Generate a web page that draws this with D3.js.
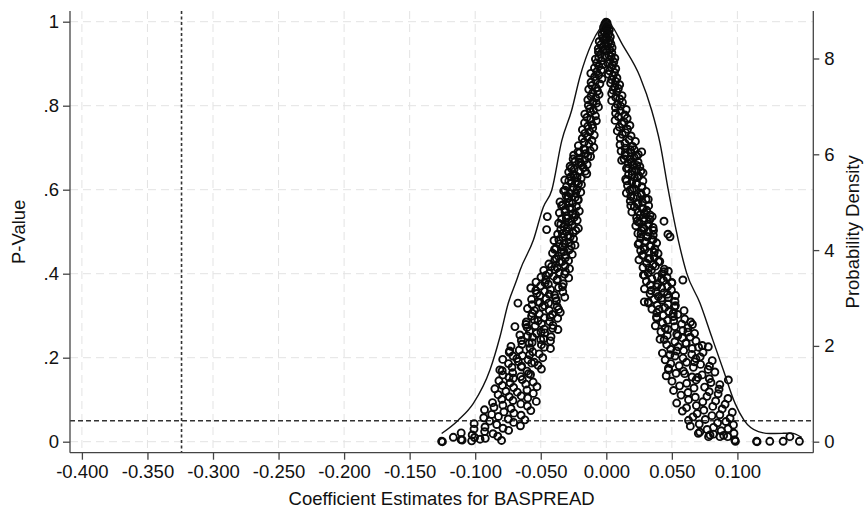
<!DOCTYPE html>
<html><head><meta charset="utf-8">
<script src="https://cdn.jsdelivr.net/npm/d3@7"></script>
<style>body{margin:0;background:#fff}svg{display:block}text{font-family:"Liberation Sans",Arial,Helvetica,sans-serif;fill:#111}</style>
</head><body><svg id="c" width="867" height="510"></svg>
<script>
const xTicks = [-0.4,-0.35,-0.3,-0.25,-0.2,-0.15,-0.1,-0.05,0,0.05,0.1];
const xTickLabels = ["-0.400","-0.350","-0.300","-0.250","-0.200","-0.150","-0.100","-0.050","0.000","0.050","0.100"];
const pTicks = [0,0.2,0.4,0.6,0.8,1];
const pTickLabels = ["0",".2",".4",".6",".8","1"];
const dTicks = [0,2,4,6,8];
const dTickLabels = ["0","2","4","6","8"];
const refCoef = -0.324;
const refP = 0.05;
// kernel density of coefficient estimates: [coef, density]
const density = [[-0.1256,0.17],[-0.1129,0.45],[-0.1014,0.80],[-0.0887,1.50],[-0.0811,2.19],[-0.0748,2.89],[-0.0683,3.38],[-0.0658,3.58],[-0.0556,4.21],[-0.048,4.90],[-0.0416,5.25],[-0.0340,6.28],[-0.0264,6.92],[-0.0201,7.62],[-0.0111,8.32],[-0.005,8.62],[0,8.77],[0.005,8.65],[0.0117,8.32],[0.0257,7.62],[0.0346,6.92],[0.041,6.23],[0.0473,5.25],[0.0549,4.21],[0.0613,3.52],[0.0715,2.89],[0.0804,2.19],[0.0892,1.50],[0.0982,0.80],[0.105,0.45],[0.116,0.21],[0.125,0.17],[0.135,0.175],[0.141,0.18],[0.149,0.09]];
// p-values against coefficient estimates, negative side: [coef, p]
const leftPoints = [
[-.0002,.999],[-.0011,.995],[-.0009,.991],[-.0021,.987],[-.0003,.983],[-.0019,.978],[-.0013,.974],[-.0032,.970],[-.0002,.966],[-.0027,.961],[-.0016,.957],[-.0054,.953],[-.0009,.949],[-.0042,.945],[-.0029,.940],[-.0061,.936],[-.0023,.932],[-.0060,.928],[-.0045,.923],[-.0010,.919],[-.0057,.915],[-.0083,.911],[-.0037,.907],[-.0073,.902],[-.0025,.898],[-.0057,.894],[-.0090,.890],[-.0038,.885],[-.0073,.881],[-.0118,.877],[-.0058,.873],[-.0089,.869],[-.0033,.864],[-.0080,.860],[-.0116,.856],[-.0049,.852],[-.0110,.848],[-.0078,.843],[-.0134,.839],[-.0067,.835],[-.0103,.831],[-.0055,.827],[-.0117,.822],[-.0080,.818],[-.0141,.814],[-.0103,.810],[-.0075,.806],[-.0137,.801],[-.0060,.797],[-.0126,.793],[-.0098,.789],[-.0120,.785],[-.0164,.780],[-.0083,.776],[-.0148,.772],[-.0118,.768],[-.0076,.764],[-.0166,.759],[-.0107,.755],[-.0142,.751],[-.0104,.747],[-.0182,.743],[-.0126,.738],[-.0164,.734],[-.0092,.730],[-.0143,.726],[-.0183,.722],[-.0110,.717],[-.0169,.713],[-.0132,.709],[-.0213,.705],[-.0095,.701],
[-.0172,.697],[-.0122,.693],[-.0216,.690],[-.0157,.686],[-.0249,.682],[-.0120,.679],[-.0205,.675],[-.0165,.671],[-.0237,.668],[-.0196,.664],[-.0146,.660],[-.0276,.656],[-.0176,.653],[-.0245,.649],[-.0209,.645],[-.0287,.642],[-.0149,.638],[-.0236,.634],[-.0271,.631],[-.0192,.627],[-.0317,.623],[-.0223,.619],[-.0265,.616],[-.0190,.612],[-.0303,.608],[-.0250,.605],[-.0223,.601],[-.0325,.597],[-.0195,.594],[-.0273,.590],[-.0306,.586],[-.0237,.582],[-.0293,.579],[-.0215,.575],[-.0353,.571],[-.0257,.568],[-.0332,.564],[-.0228,.560],[-.0278,.557],[-.0313,.553],[-.0206,.549],[-.0358,.545],[-.0258,.542],[-.0302,.538],[-.0245,.534],[-.0340,.531],[-.0222,.527],[-.0284,.523],[-.0364,.520],[-.0262,.516],[-.0325,.512],[-.0213,.508],[-.0347,.505],[-.0305,.501],[-.0253,.497],[-.0371,.494],[-.0292,.490],[-.0331,.486],[-.0250,.483],[-.0399,.479],[-.0282,.475],[-.0358,.471],[-.0239,.468],[-.0334,.464],[-.0384,.460],[-.0282,.457],[-.0322,.453],[-.0410,.449],[-.0260,.446],[-.0367,.442],[-.0312,.438],[-.0392,.434],[-.0288,.431],[-.0357,.427],[-.0438,.423],[-.0450,.536],[-.0455,.505],
[-.0161,.695],[-.0204,.688],[-.0141,.680],[-.0253,.673],[-.0209,.666],[-.0187,.658],[-.0267,.651],[-.0160,.644],[-.0251,.636],[-.0223,.629],[-.0286,.621],[-.0212,.614],[-.0257,.606],[-.0315,.599],[-.0234,.592],[-.0291,.584],[-.0215,.577],[-.0282,.569],[-.0341,.562],[-.0262,.555],[-.0315,.547],[-.0234,.540],[-.0305,.532],[-.0266,.525],[-.0347,.518],[-.0291,.510],[-.0233,.503],[-.0335,.495],[-.0275,.488],[-.0362,.481],[-.0320,.473],[-.0268,.466],[-.0395,.458],[-.0343,.451],[-.0309,.444],[-.0381,.436],[-.0337,.429],
[-.0314,.419],[-.0418,.417],[-.0281,.412],[-.0393,.410],[-.0477,.408],[-.0360,.403],[-.0437,.401],[-.0318,.399],[-.0402,.394],[-.0498,.392],[-.0287,.390],[-.0461,.385],[-.0377,.384],[-.0536,.380],[-.0328,.376],[-.0442,.375],[-.0501,.371],[-.0364,.367],[-.0576,.366],[-.0425,.362],[-.0470,.358],[-.0332,.357],[-.0530,.353],[-.0395,.349],[-.0507,.348],[-.0317,.344],[-.0459,.340],[-.0570,.339],[-.0380,.335],[-.0508,.331],[-.0440,.330],[-.0566,.326],[-.0375,.322],[-.0486,.321],[-.0601,.317],[-.0435,.313],[-.0548,.312],[-.0351,.308],[-.0511,.304],[-.0411,.303],[-.0570,.299],[-.0472,.295],[-.0371,.294],[-.0548,.290],[-.0433,.286],[-.0610,.285],[-.0494,.281],[-.0407,.277],[-.0542,.276],[-.0604,.272],[-.0473,.268],[-.0369,.267],[-.0586,.263],[-.0470,.259],[-.0532,.258],[-.0659,.254],[-.0422,.250],[-.0562,.249],[-.0479,.245],[-.0648,.241],[-.0426,.240],[-.0566,.236],[-.0643,.232],[-.0495,.231],[-.0727,.227],[-.0582,.223],[-.0426,.222],[-.0664,.218],[-.0561,.214],[-.0740,.213],[-.0512,.209],[-.0640,.205],[-.0712,.204],[-.0485,.200],[-.0790,.196],[-.0597,.195],[-.0671,.191],[-.0569,.187],[-.0746,.186],[-.0521,.182],[-.0648,.178],[-.0719,.177],[-.0495,.173],[-.0794,.169],[-.0605,.168],[-.0714,.164],[-.0578,.160],[-.0789,.159],[-.0653,.155],[-.0709,.151],[-.0674,.330],[-.0697,.274],
[-.0374,.414],[-.0311,.405],[-.0461,.396],[-.0373,.387],[-.0467,.378],[-.0334,.369],[-.0538,.360],[-.0435,.351],[-.0387,.342],[-.0520,.333],[-.0471,.324],[-.0363,.315],[-.0565,.306],[-.0428,.297],[-.0520,.288],[-.0613,.279],[-.0410,.270],[-.0498,.261],[-.0601,.252],[-.0500,.243],[-.0588,.234],[-.0473,.225],[-.0737,.216],[-.0585,.207],[-.0682,.198],[-.0549,.189],[-.0646,.180],[-.0812,.171],[-.0593,.162],[-.0742,.153],
[-.0641,.148],[-.0819,.145],[-.0558,.142],[-.0734,.140],[-.0614,.137],[-.0792,.134],[-.0529,.131],[-.0707,.129],[-.0850,.126],[-.0605,.123],[-.0766,.120],[-.0679,.118],[-.0557,.115],[-.0825,.112],[-.0649,.109],[-.0740,.107],[-.0599,.104],[-.0797,.101],[-.0712,.098],[-.0534,.096],[-.0868,.093],[-.0652,.090],[-.0789,.087],[-.0602,.085],[-.0857,.082],[-.0727,.079],[-.0929,.076],[-.0576,.074],[-.0781,.071],[-.0705,.068],[-.0874,.065],[-.0650,.063],[-.0823,.060],[-.0935,.057],[-.0748,.054],[-.0621,.052],[-.0890,.049],[-.0707,.046],[-.1008,.043],[-.0836,.041],[-.0655,.038],[-.0925,.035],[-.0788,.032],[-.1009,.030],[-.0745,.027],[-.0928,.024],[-.1107,.021],[-.0864,.019],[-.1023,.016],[-.0828,.013],[-.1005,.010],[-.0923,.008],[-.1108,.005],[-.0799,.003],
[-.1256,.001],[-.1250,.000],[-.1167,.0105],[-.1100,.004],[-.1027,.002],[-.0963,.006]];
// p-values against coefficient estimates, positive side: [coef, p]
const rightPoints = [
[.0006,.997],[.0002,.993],[.0014,.989],[.0007,.985],[.0023,.980],[.0005,.976],[.0019,.972],[.0013,.968],[.0031,.964],[.0002,.959],[.0025,.955],[.0013,.951],[.0035,.947],[.0008,.942],[.0044,.938],[.0025,.934],[.0003,.930],[.0042,.926],[.0019,.921],[.0037,.917],[.0065,.913],[.0028,.909],[.0057,.904],[.0014,.900],[.0048,.896],[.0036,.892],[.0072,.888],[.0025,.883],[.0062,.879],[.0016,.875],[.0051,.871],[.0081,.866],[.0041,.862],[.0071,.858],[.0033,.854],[.0102,.850],[.0064,.845],[.0092,.841],[.0051,.837],[.0080,.833],[.0041,.829],[.0120,.824],[.0071,.820],[.0102,.816],[.0041,.812],[.0123,.808],[.0086,.803],[.0109,.799],[.0070,.795],[.0152,.791],[.0107,.787],[.0071,.782],[.0141,.778],[.0092,.774],[.0159,.770],[.0067,.765],[.0136,.761],[.0120,.757],[.0180,.753],[.0100,.749],[.0162,.744],[.0084,.740],[.0147,.736],[.0122,.732],[.0189,.728],[.0106,.723],[.0174,.719],[.0222,.715],[.0142,.711],[.0105,.707],[.0201,.703],
[.0144,.699],[.0214,.695],[.0113,.692],[.0189,.688],[.0244,.684],[.0144,.681],[.0213,.677],[.0179,.673],[.0117,.670],[.0242,.666],[.0167,.662],[.0205,.658],[.0256,.655],[.0154,.651],[.0227,.647],[.0195,.644],[.0280,.640],[.0170,.636],[.0249,.633],[.0215,.629],[.0148,.625],[.0279,.621],[.0194,.618],[.0235,.614],[.0162,.610],[.0271,.607],[.0211,.603],[.0180,.599],[.0304,.596],[.0153,.592],[.0268,.588],[.0238,.584],[.0207,.581],[.0303,.577],[.0183,.573],[.0276,.570],[.0239,.566],[.0323,.562],[.0214,.559],[.0273,.555],[.0308,.551],[.0195,.547],[.0291,.544],[.0257,.540],[.0350,.536],[.0231,.533],[.0332,.529],[.0288,.525],[.0251,.522],[.0321,.518],[.0225,.514],[.0357,.510],[.0289,.507],[.0269,.503],[.0324,.499],[.0241,.496],[.0358,.492],[.0314,.488],[.0263,.485],[.0348,.481],[.0296,.477],[.0384,.473],[.0243,.470],[.0333,.466],[.0286,.462],[.0370,.459],[.0262,.455],[.0324,.451],[.0395,.448],[.0283,.444],[.0364,.440],[.0321,.436],[.0249,.433],[.0398,.429],[.0307,.425],[.0356,.421],[.0270,.690],[.0486,.488],[.0470,.494],[.0440,.525],
[.0184,.695],[.0145,.688],[.0232,.680],[.0136,.673],[.0192,.666],[.0233,.658],[.0168,.651],[.0263,.644],[.0198,.636],[.0237,.629],[.0155,.621],[.0227,.614],[.0272,.606],[.0197,.599],[.0264,.592],[.0187,.584],[.0320,.577],[.0244,.569],[.0187,.562],[.0282,.555],[.0242,.547],[.0333,.540],[.0284,.532],[.0235,.525],[.0321,.518],[.0280,.510],[.0360,.503],[.0265,.495],[.0314,.488],[.0357,.481],[.0251,.473],[.0341,.466],[.0295,.458],[.0366,.451],[.0274,.444],[.0331,.436],[.0408,.429],
[.0375,.418],[.0280,.415],[.0442,.411],[.0344,.409],[.0473,.406],[.0319,.402],[.0425,.400],[.0283,.397],[.0389,.393],[.0463,.391],[.0348,.388],[.0437,.384],[.0306,.382],[.0499,.379],[.0393,.375],[.0335,.373],[.0468,.370],[.0422,.366],[.0291,.364],[.0497,.361],[.0379,.357],[.0440,.355],[.0334,.352],[.0528,.348],[.0397,.346],[.0471,.343],[.0365,.339],[.0426,.337],[.0524,.334],[.0322,.330],[.0470,.328],[.0388,.325],[.0521,.321],[.0446,.319],[.0348,.316],[.0593,.312],[.0476,.310],[.0385,.307],[.0545,.303],[.0434,.301],[.0511,.298],[.0385,.294],[.0598,.292],[.0467,.289],[.0643,.285],[.0429,.283],[.0575,.280],[.0374,.276],[.0522,.274],[.0622,.271],[.0471,.267],[.0584,.265],[.0417,.262],[.0673,.258],[.0537,.256],[.0465,.253],[.0640,.249],[.0581,.247],[.0410,.244],[.0684,.240],[.0523,.238],[.0607,.235],[.0461,.231],[.0732,.229],[.0548,.226],[.0655,.222],[.0491,.220],[.0590,.217],[.0738,.213],[.0428,.211],[.0652,.208],[.0524,.204],[.0716,.202],[.0585,.199],[.0449,.195],[.0808,.193],[.0673,.190],[.0492,.186],[.0719,.184],[.0556,.181],[.0664,.177],[.0474,.175],[.0777,.172],[.0588,.168],[.0828,.166],[.0532,.163],[.0731,.159],[.0457,.157],[.0654,.154],[.0786,.150],[.0778,.226],[.0931,.147],[.0584,.385],[.0290,.333],
[.0326,.414],[.0440,.405],[.0291,.396],[.0421,.387],[.0500,.378],[.0385,.369],[.0342,.360],[.0467,.351],[.0423,.342],[.0320,.333],[.0527,.324],[.0402,.315],[.0511,.306],[.0383,.297],[.0514,.288],[.0657,.279],[.0449,.270],[.0622,.261],[.0545,.252],[.0442,.243],[.0609,.234],[.0704,.225],[.0536,.216],[.0485,.207],[.0683,.198],[.0612,.189],[.0787,.180],[.0475,.171],[.0598,.162],[.0697,.153],
[.0685,.147],[.0501,.144],[.0798,.141],[.0613,.139],[.0866,.136],[.0559,.133],[.0750,.130],[.0669,.128],[.0860,.125],[.0513,.122],[.0785,.119],[.0623,.117],[.0853,.114],[.0570,.111],[.0768,.108],[.0679,.106],[.0928,.103],[.0627,.100],[.0834,.097],[.0736,.095],[.0537,.092],[.0906,.089],[.0687,.086],[.0812,.084],[.0612,.081],[.0884,.078],[.0744,.075],[.0580,.073],[.0961,.070],[.0693,.067],[.0866,.064],[.0806,.062],[.0661,.059],[.0944,.056],[.0755,.053],[.0627,.051],[.0912,.048],[.0849,.045],[.0709,.042],[.0970,.040],[.0641,.037],[.0818,.034],[.0929,.031],[.0769,.029],[.0876,.026],[.0713,.023],[.0974,.020],[.0817,.018],[.0895,.015],[.0780,.012],
[.0702,.020],[.0791,.016],[.0867,.012],[.0980,.004],[.0985,.001],[.0926,.012],[.1146,.001],[.1150,.000],[.1247,.001],[.1349,.001],[.1400,.012],[.1473,.001]];

const svg = d3.select("#c");
const L = 70, R = 813.3, T = 11, B = 452.7;
const x = d3.scaleLinear().domain([-0.4, 0.1]).range([81.9, 737.4]);
const yP = d3.scaleLinear().domain([0, 1]).range([441.7, 21.7]);
const yD = d3.scaleLinear().domain([0, 8]).range([441.7, 58.5]);
const axisCol = "#444", fs = "18.5px";

// grid
const g = svg.append("g");
g.selectAll("line.gx").data(xTicks).join("line")
  .attr("x1", d => x(d)).attr("x2", d => x(d)).attr("y1", T).attr("y2", B)
  .attr("stroke", "#e3e3e3").attr("stroke-width", 1).attr("stroke-dasharray", "8,5");
g.selectAll("line.gy").data(pTicks).join("line")
  .attr("x1", L).attr("x2", R).attr("y1", d => yP(d)).attr("y2", d => yP(d))
  .attr("stroke", "#e3e3e3").attr("stroke-width", 1).attr("stroke-dasharray", "8,5");

// reference lines
svg.append("line").attr("x1", x(refCoef)).attr("x2", x(refCoef)).attr("y1", T).attr("y2", B)
  .attr("stroke", "#333").attr("stroke-width", 1.6).attr("stroke-dasharray", "3,2.5");
svg.append("line").attr("x1", L).attr("x2", R).attr("y1", yP(refP)).attr("y2", yP(refP))
  .attr("stroke", "#333").attr("stroke-width", 1.5).attr("stroke-dasharray", "5,3");

// scatter
const pts = leftPoints.concat(rightPoints);
svg.append("g").selectAll("circle").data(pts).join("circle")
  .attr("cx", d => x(d[0])).attr("cy", d => yP(d[1])).attr("r", 3.5)
  .attr("fill", "none").attr("stroke", "#0a0a0a").attr("stroke-width", 1.9);

// density line
svg.append("path").datum(density)
  .attr("d", d3.line().x(d => x(d[0])).y(d => yD(d[1])).curve(d3.curveMonotoneX))
  .attr("fill", "none").attr("stroke", "#111").attr("stroke-width", 1.4);

// axes
const ax = svg.append("g").attr("stroke", axisCol).attr("stroke-width", 1.3);
ax.append("line").attr("x1", L).attr("x2", L).attr("y1", T).attr("y2", B);
ax.append("line").attr("x1", R).attr("x2", R).attr("y1", T).attr("y2", B);
ax.append("line").attr("x1", L).attr("x2", R).attr("y1", B).attr("y2", B);

const bottom = svg.append("g").attr("transform", `translate(0,${B})`)
  .call(d3.axisBottom(x).tickValues(xTicks).tickSize(7).tickPadding(5).tickFormat((d, i) => xTickLabels[i]));
const left = svg.append("g").attr("transform", `translate(${L},0)`)
  .call(d3.axisLeft(yP).tickValues(pTicks).tickSize(7).tickPadding(4).tickFormat((d, i) => pTickLabels[i]));
const right = svg.append("g").attr("transform", `translate(${R},0)`)
  .call(d3.axisRight(yD).tickValues(dTicks).tickSize(6).tickPadding(5).tickFormat((d, i) => dTickLabels[i]));
[bottom, left, right].forEach(a => {
  a.attr("font-size", null).attr("font-family", null);
  a.select(".domain").remove();
  a.selectAll(".tick line").attr("stroke", axisCol).attr("stroke-width", 1.3);
  a.selectAll(".tick text").style("font-size", fs).attr("fill", "#111")
    .style("font-family", '"Liberation Sans",Arial,Helvetica,sans-serif');
});

// titles
svg.append("text").attr("x", (L + R) / 2).attr("y", 505).attr("text-anchor", "middle")
  .style("font-size", fs).text("Coefficient Estimates for BASPREAD");
svg.append("text").attr("transform", `translate(25,${(T + B) / 2}) rotate(-90)`).attr("text-anchor", "middle")
  .style("font-size", fs).text("P-Value");
svg.append("text").attr("transform", `translate(859,${(T + B) / 2}) rotate(-90)`).attr("text-anchor", "middle")
  .style("font-size", fs).text("Probability Density");
</script></body></html>
